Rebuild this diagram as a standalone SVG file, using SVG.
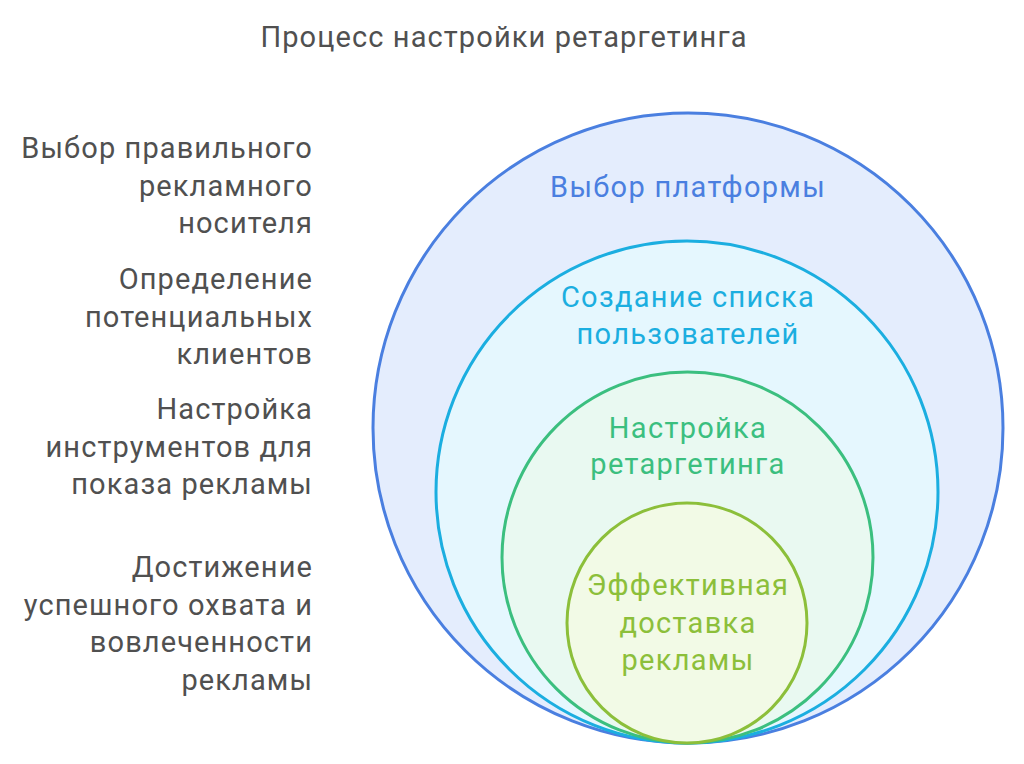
<svg xmlns="http://www.w3.org/2000/svg" width="1024" height="764" viewBox="0 0 1024 764">
<style>
text{font-family:Roboto,"Liberation Sans",sans-serif;font-size:29px;letter-spacing:1.1px}
.t{fill:#505050;text-anchor:middle}
.l{fill:#505050;text-anchor:end}
.c{text-anchor:middle;letter-spacing:1.3px}
circle{stroke-width:3}
</style>
<rect width="1024" height="764" fill="#ffffff"/>
<text class="t" x="504" y="47">Процесс настройки ретаргетинга</text>
<g id="labels">
<text class="l" x="313" y="158">Выбор правильного</text>
<text class="l" x="313" y="196">рекламного</text>
<text class="l" x="313" y="233">носителя</text>
<text class="l" x="313" y="289">Определение</text>
<text class="l" x="313" y="327">потенциальных</text>
<text class="l" x="313" y="364">клиентов</text>
<text class="l" x="313" y="419">Настройка</text>
<text class="l" x="313" y="457">инструментов для</text>
<text class="l" x="313" y="494">показа рекламы</text>
<text class="l" x="313" y="577">Достижение</text>
<text class="l" x="313" y="615">успешного охвата и</text>
<text class="l" x="313" y="652">вовлеченности</text>
<text class="l" x="313" y="690">рекламы</text>
</g>
<g id="platform">
<circle cx="688" cy="428" r="315" fill="#E4EDFD" stroke="#4A7FE0"/>
<text class="c" x="688" y="197" fill="#4A7FE0">Выбор платформы</text>
</g>
<g id="userlist">
<circle cx="687" cy="492" r="251" fill="#E5F7FE" stroke="#1BAEE0"/>
<text class="c" x="688" y="307" fill="#1BAEE0">Создание списка</text>
<text class="c" x="688" y="344" fill="#1BAEE0">пользователей</text>
</g>
<g id="retargeting">
<circle cx="687.5" cy="557.5" r="185.5" fill="#E9F9F1" stroke="#3BBF7F"/>
<text class="c" x="688" y="438" fill="#3BBF7F">Настройка</text>
<text class="c" x="688" y="474" fill="#3BBF7F">ретаргетинга</text>
</g>
<g id="delivery">
<circle cx="687" cy="623" r="120" fill="#F2FAE6" stroke="#8CBF3A"/>
<text class="c" x="688" y="595" fill="#8CBF3A">Эффективная</text>
<text class="c" x="688" y="633" fill="#8CBF3A">доставка</text>
<text class="c" x="688" y="670" fill="#8CBF3A">рекламы</text>
</g>
<g id="connectors"/>
</svg>
